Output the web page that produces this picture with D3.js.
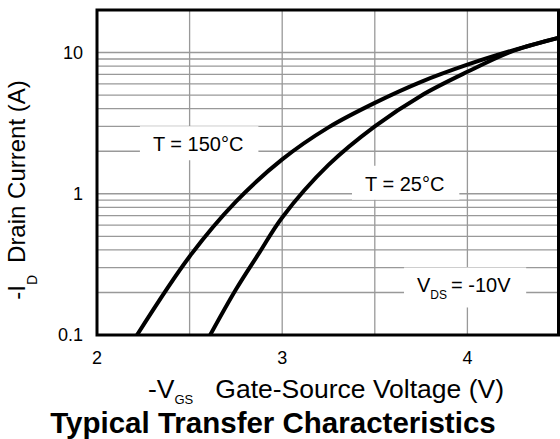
<!DOCTYPE html>
<html>
<head>
<meta charset="utf-8">
<script src="https://cdn.jsdelivr.net/npm/d3@7"></script>
<style>
body { margin: 0; background: #fff; }
svg { display: block; font-family: Arial, "Liberation Sans", sans-serif; }
</style>
</head>
<body>
<svg id="chart"></svg>
<script>
// -VGS (V) vs -ID (A)
const vgs150 = [2.216, 2.5, 2.75, 3.0, 3.25, 3.5, 3.75, 4.0, 4.25, 4.5];
const id150  = [0.1, 0.36, 0.88, 1.75, 2.95, 4.4, 6.2, 8.2, 10.4, 12.8];

const vgs25 = [2.611, 2.75, 2.875, 3.0, 3.25, 3.5, 3.75, 4.0, 4.25, 4.5];
const id25  = [0.1, 0.21, 0.38, 0.68, 1.6, 3.0, 4.95, 7.3, 10.3, 12.8];

const xTicks = [2, 3, 4];
const xGrid = [2.5, 3, 3.5, 4];
const yTicks = [0.1, 1, 10];
const yTickLabels = ['0.1', '1', '10'];

const annText = ['T = 150°C', 'T = 25°C', 'V_DS = -10V'];
const annV = [2.302, 3.447, 3.728];
const annI = [2.0, 1.05, 0.2];

drawChart();

function drawChart() {
    const width = 560;
    const height = 439;
    const left = 97, right = 560, top = 10, bottom = 335;

    const svg = d3.select('#chart')
        .attr('width', width)
        .attr('height', height);

    const x = d3.scaleLinear().domain([2, 4.5]).range([left, right]);
    const y = d3.scaleLog().domain([0.1, 20]).range([bottom, top]);

    // grid
    svg.append('g').selectAll('line')
        .data(y.ticks().filter(d => d > 0.1 && d < 20))
        .enter().append('line')
        .attr('x1', left).attr('x2', right)
        .attr('y1', d => y(d)).attr('y2', d => y(d))
        .style('stroke', '#999').style('stroke-width', 1.3);

    svg.append('g').selectAll('line')
        .data(xGrid)
        .enter().append('line')
        .attr('x1', d => x(d)).attr('x2', d => x(d))
        .attr('y1', top).attr('y2', bottom)
        .style('stroke', '#999').style('stroke-width', 1.3);

    // annotations with white boxes over the grid
    const ann = svg.append('g');
    annText.forEach((t, i) => {
        const g = ann.append('g');
        const txt = g.append('text')
            .attr('x', x(annV[i]))
            .attr('y', y(annI[i]))
            .style('font-size', '20px');
        if (t.indexOf('_') > 0) {
            const parts = t.split('_');
            txt.append('tspan').text(parts[0]);
            txt.append('tspan').attr('dy', 7).style('font-size', '12px').text(parts[1].split(' ')[0]);
            txt.append('tspan').attr('dy', -7).attr('dx', 4).text(parts[1].slice(parts[1].indexOf(' ') + 1));
        } else {
            txt.text(t);
        }
        const bb = txt.node().getBBox();
        g.insert('rect', 'text')
            .attr('x', bb.x - 13).attr('y', bb.y - 7)
            .attr('width', bb.width + 28).attr('height', bb.height + 12)
            .style('fill', '#fff');
    });

    // curves
    const line = d3.line()
        .x(d => x(d[0]))
        .y(d => y(d[1]))
        .curve(d3.curveCatmullRom.alpha(0.5));

    svg.append('defs').append('clipPath').attr('id', 'clip')
        .append('rect').attr('x', left).attr('y', top)
        .attr('width', right - left).attr('height', bottom - top);

    [[vgs150, id150], [vgs25, id25]].forEach(s => {
        svg.append('path')
            .datum(s[0].map((v, i) => [v, s[1][i]]))
            .attr('d', line)
            .attr('clip-path', 'url(#clip)')
            .style('fill', 'none')
            .style('stroke', '#000')
            .style('stroke-width', 4);
    });

    // frame
    svg.append('rect')
        .attr('x', left).attr('y', top)
        .attr('width', right - left - 1.5).attr('height', bottom - top)
        .style('fill', 'none').style('stroke', '#000').style('stroke-width', 3);

    // tick labels
    svg.append('g').selectAll('text')
        .data(xTicks)
        .enter().append('text')
        .attr('x', d => x(d)).attr('y', 364)
        .attr('text-anchor', 'middle')
        .style('font-size', '18px')
        .text(d => d);

    svg.append('g').selectAll('text')
        .data(yTicks)
        .enter().append('text')
        .attr('x', 83).attr('y', d => y(d))
        .attr('dy', '0.36em')
        .attr('text-anchor', 'end')
        .style('font-size', '18px')
        .text((d, i) => yTickLabels[i]);

    // axis titles
    const xl = svg.append('text').attr('x', 148).attr('y', 398).style('font-size', '26.5px');
    xl.append('tspan').text('-V');
    xl.append('tspan').attr('dy', 6).style('font-size', '13px').text('GS');
    xl.append('tspan').attr('dy', -6).attr('dx', 22).text('Gate-Source Voltage (V)');

    const yl = svg.append('text')
        .attr('transform', 'translate(25,190) rotate(-90)')
        .attr('text-anchor', 'middle')
        .style('font-size', '24px');
    yl.append('tspan').text('-I');
    yl.append('tspan').attr('dy', 12).style('font-size', '14px').text('D');
    yl.append('tspan').attr('dy', -12).attr('dx', 12).text('Drain Current (A)');

    svg.append('text')
        .attr('x', 273).attr('y', 433)
        .attr('text-anchor', 'middle')
        .style('font-size', '29.5px')
        .style('font-weight', 'bold')
        .text('Typical Transfer Characteristics');
}
</script>
</body>
</html>
